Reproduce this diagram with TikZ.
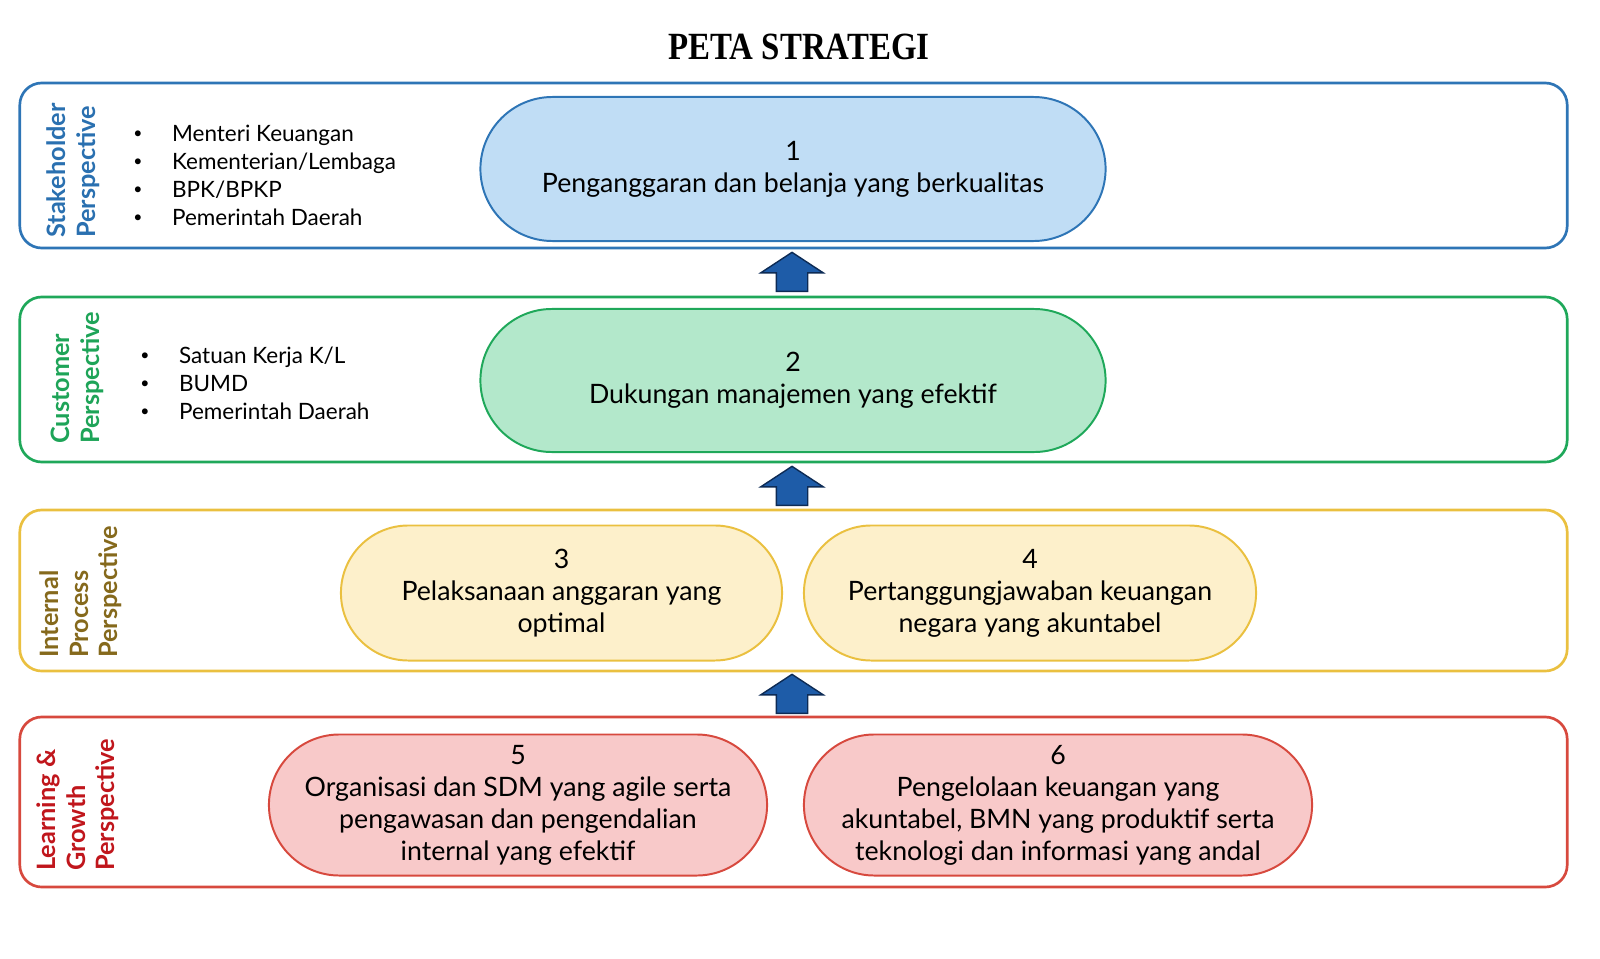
\documentclass[tikz,border=0pt]{standalone}
\usepackage{graphicx}
\usepackage{fontspec}
\setsansfont{Lato}
\newfontfamily\titlefont{Liberation Serif}
\usetikzlibrary{shapes.arrows}
\definecolor{stkline}{HTML}{2E75B6}
\definecolor{stkfill}{HTML}{C0DDF5}
\definecolor{stktext}{HTML}{2A70B0}
\definecolor{cusline}{HTML}{1FA85A}
\definecolor{cusfill}{HTML}{B3E8CB}
\definecolor{custext}{HTML}{1EA458}
\definecolor{intline}{HTML}{EAC040}
\definecolor{intfill}{HTML}{FDF0CB}
\definecolor{inttext}{HTML}{85691C}
\definecolor{lgline}{HTML}{D7493E}
\definecolor{lgfill}{HTML}{F8C9C9}
\definecolor{lgtext}{HTML}{C0161C}
\definecolor{arrfill}{HTML}{1E5CA8}
\definecolor{arrline}{HTML}{0D2B55}
\tikzset{
  band/.style={draw=#1,line width=1.9pt,rounded corners=0.55cm,minimum width=38.675cm,inner sep=0pt},
  goal/.style 2 args={draw=#1,fill=#2,line width=1.4pt,align=center,inner sep=0pt,
    font=\sffamily\fontsize{19pt}{22.8pt}\selectfont},
  persp/.style={text=#1,rotate=90,anchor=north west,align=left,inner sep=0pt,
    font=\sffamily\bfseries\fontsize{18pt}{21.3pt}\selectfont},
  plist/.style={anchor=west,align=left,inner sep=0pt,font=\sffamily\fontsize{16pt}{19.9pt}\selectfont},
  uparrow/.style={single arrow,shape border rotate=90,draw=arrline,fill=arrfill,line width=1pt,
    inner xsep=0.375cm,inner ysep=0pt,minimum height=0.975cm,minimum width=1.525cm,
    single arrow head extend=0.3875cm,single arrow tip angle=113.5}
}
\newcommand\pbul{\makebox[0.97cm][l]{\raisebox{0.1em}{\scalebox{0.7}{\textbullet}}}}

\begin{document}
\begin{tikzpicture}[x=0.025cm,y=-0.025cm]
        \useasboundingbox (0,0) rectangle (1600,959);
        \node [anchor=base,inner sep=0pt,font=\titlefont\bfseries\fontsize{23.4pt}{27pt}\selectfont] (title) at (799,60) {\scalebox{1}[1.17]{PETA STRATEGI}};

        \node [band=stkline,minimum height=4.125cm] (stk) at (793.5,165.5) {};
        \node [band=cusline,minimum height=4.125cm] (cus) at (793.5,379.5) {};
        \node [band=intline,minimum height=4.025cm] (int) at (793.5,590.5) {};
        \node [band=lgline,minimum height=4.25cm]   (lg)  at (793.5,802)   {};

        \node [persp=stktext] (stklabel) at (46,238) {Stakeholder\\Perspective};
        \node [persp=custext] (cuslabel) at (51,444) {Customer\\Perspective};
        \node [persp=inttext] (intlabel) at (39,658) {Internal\\Process\\Perspective};
        \node [persp=lgtext]  (lglabel)  at (36,871) {Learning \&\\Growth\\Perspective};

        \node [plist] (stklist) at (133,175) {\pbul Menteri Keuangan\\\pbul Kementerian/Lembaga\\\pbul BPK/BPKP\\\pbul Pemerintah Daerah};
        \node [plist] (cuslist) at (140,383) {\pbul Satuan Kerja K/L\\\pbul BUMD\\\pbul Pemerintah Daerah};

        \node [goal={stkline}{stkfill},minimum width=15.625cm,minimum height=3.6cm,rounded corners=1.8cm]     (g1) at (793,169)   {1\\Penganggaran dan belanja yang berkualitas};
        \node [goal={cusline}{cusfill},minimum width=15.625cm,minimum height=3.575cm,rounded corners=1.785cm] (g2) at (793,380.5) {2\\Dukungan manajemen yang efektif};
        \node [goal={intline}{intfill},minimum width=11.025cm,minimum height=3.375cm,rounded corners=1.685cm] (g3) at (561.5,593) {3\\Pelaksanaan anggaran yang\\optimal};
        \node [goal={intline}{intfill},minimum width=11.3cm,minimum height=3.375cm,rounded corners=1.685cm]   (g4) at (1030,593)  {4\\Pertanggungjawaban keuangan\\negara yang akuntabel};
        \node [goal={lgline}{lgfill},minimum width=12.45cm,minimum height=3.525cm,rounded corners=1.76cm]     (g5) at (518,805)   {5\\Organisasi dan SDM yang agile serta\\pengawasan dan pengendalian\\internal yang efektif};
        \node [goal={lgline}{lgfill},minimum width=12.7cm,minimum height=3.525cm,rounded corners=1.76cm]      (g6) at (1058,805)  {6\\Pengelolaan keuangan yang\\akuntabel, BMN yang produktif serta\\teknologi dan informasi yang andal};

        \node [uparrow] (a1) at (792,277) {};
        \node [uparrow] (a2) at (792,491) {};
        \node [uparrow] (a3) at (792,699) {};
\end{tikzpicture}
\end{document}
